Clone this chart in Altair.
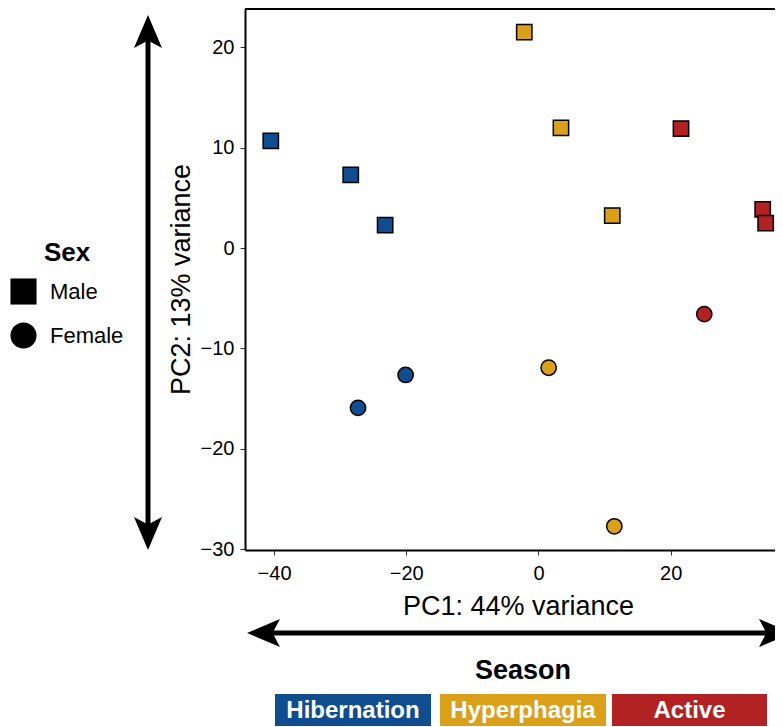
import altair as alt
import pandas as pd

# ---------------- data ----------------
seasons = ["Hibernation", "Hyperphagia", "Active"]
season_colors = ["#104D8F", "#DAA01A", "#B22222"]
sexes = ["Male", "Female"]
sex_shapes = ["square", "circle"]

pt_season = ["Hibernation"] * 5 + ["Hyperphagia"] * 5 + ["Active"] * 4
pt_sex = ["Male", "Male", "Male", "Female", "Female",
          "Male", "Male", "Male", "Female", "Female",
          "Male", "Male", "Male", "Female"]
pc1 = [-40.5, -28.4, -23.2, -27.3, -20.1,
       -2.15, 3.40, 11.16, 1.54, 11.47,
       21.56, 33.92, 34.37, 25.08]
pc2 = [10.67, 7.29, 2.28, -15.92, -12.64,
       21.49, 11.96, 3.22, -11.92, -27.71,
       11.89, 3.84, 2.48, -6.58]
x_ticks = [-40, -20, 0, 20]
y_ticks = [-30, -20, -10, 0, 10, 20]
x_title = "PC1: 44% variance"
y_title = "PC2: 13% variance"
sex_title = "Sex"
season_title = "Season"

# ---------------- layout ----------------
FONT = "Liberation Sans"
W, H = 530, 541
PAD = {"left": 237, "top": 1, "right": 0, "bottom": 177}
x_dom = [-44.4, 35.78]
y_dom = [-30.07, 23.8]

df = pd.DataFrame({"PC1": pc1, "PC2": pc2, "Season": pt_season, "Sex": pt_sex})
one = pd.DataFrame({"k": [0]})

points = alt.Chart(df).mark_point(
    filled=True, stroke="black", strokeWidth=1.5, opacity=1, size=235
).encode(
    x=alt.X("PC1:Q", scale=alt.Scale(domain=x_dom, nice=False, zero=False),
            axis=alt.Axis(values=x_ticks, title=x_title, grid=False,
                          domainColor="black", domainWidth=2,
                          tickColor="#333333", tickWidth=1, tickSize=5,
                          labelFontSize=20, labelColor="black", labelPadding=8,
                          titleFontSize=27, titleFontWeight="normal", titleColor="black",
                          titleBaseline="alphabetic", titleY=64, titleX=273)),
    y=alt.Y("PC2:Q", scale=alt.Scale(domain=y_dom, nice=False, zero=False),
            axis=alt.Axis(values=y_ticks, title=y_title, grid=False,
                          domainColor="black", domainWidth=2,
                          tickColor="#333333", tickWidth=1, tickSize=5,
                          labelFontSize=20, labelColor="black", labelPadding=6,
                          titleFontSize=27, titleFontWeight="normal", titleColor="black",
                          titleAngle=270, titleBaseline="alphabetic",
                          titleX=-56, titleY=270, titleAlign="center")),
    color=alt.Color("Season:N", scale=alt.Scale(domain=seasons, range=season_colors),
                    legend=None),
    shape=alt.Shape("Sex:N", scale=alt.Scale(domain=sexes, range=sex_shapes),
                    legend=alt.Legend(title=sex_title, orient="none",
                                      legendX=-235, legendY=231,
                                      titleFontSize=26, titleFontWeight="bold",
                                      titleColor="black", titleAnchor="middle",
                                      titlePadding=12,
                                      labelFontSize=22, labelColor="black",
                                      labelOffset=13, rowPadding=17,
                                      symbolSize=680, symbolFillColor="black",
                                      symbolStrokeColor="black", symbolStrokeWidth=0,
                                      symbolOpacity=1)),
)

top_border = alt.Chart(one).mark_rule(color="black", strokeWidth=2).encode(
    x=alt.value(0), x2=alt.value(W), y=alt.value(0))

HEAD = "M0,-1L0.85,1L0,0.55L-0.85,1Z"
head_size = 1089


def head(x, y, ang):
    return alt.Chart(one).mark_point(shape=HEAD, filled=True, color="black",
                                     size=head_size, angle=ang, opacity=1).encode(
        x=alt.value(x), y=alt.value(y))


vx = -97
hy = 624
arrows = [
    alt.Chart(one).mark_rule(color="black", strokeWidth=5).encode(
        x=alt.value(vx), y=alt.value(20), y2=alt.value(527)),
    head(vx, 22.5, 0),
    head(vx, 524.5, 180),
    alt.Chart(one).mark_rule(color="black", strokeWidth=5).encode(
        x=alt.value(16), x2=alt.value(W), y=alt.value(hy)),
    head(18.5, hy, 270),
    head(530.5, hy, 90),
]

season_text = alt.Chart(one).mark_text(
    text=season_title, font=FONT, fontSize=27, fontWeight="bold", color="black",
    align="center", baseline="alphabetic").encode(x=alt.value(278), y=alt.value(670))

box_x0 = [30, 195, 367]
box_x1 = [186, 361, 522]
box_top, box_bot = 685, 717
boxes = []
for i, s in enumerate(seasons):
    boxes.append(alt.Chart(one).mark_rect(color=season_colors[i]).encode(
        x=alt.value(box_x0[i]), x2=alt.value(box_x1[i]),
        y=alt.value(box_top), y2=alt.value(box_bot)))
    boxes.append(alt.Chart(one).mark_text(
        text=s, font=FONT, fontSize=24, fontWeight="bold", color="white",
        align="center", baseline="alphabetic").encode(
        x=alt.value((box_x0[i] + box_x1[i]) / 2), y=alt.value(box_bot - 8.3)))

chart = alt.layer(top_border, *arrows, season_text, *boxes, points).properties(
    width=W, height=H, padding=PAD,
    autosize=alt.AutoSizeParams(type="none"),
).configure(font=FONT).configure_view(stroke=None)

chart.save("out.html", embed_options={"renderer": "svg", "actions": False})
